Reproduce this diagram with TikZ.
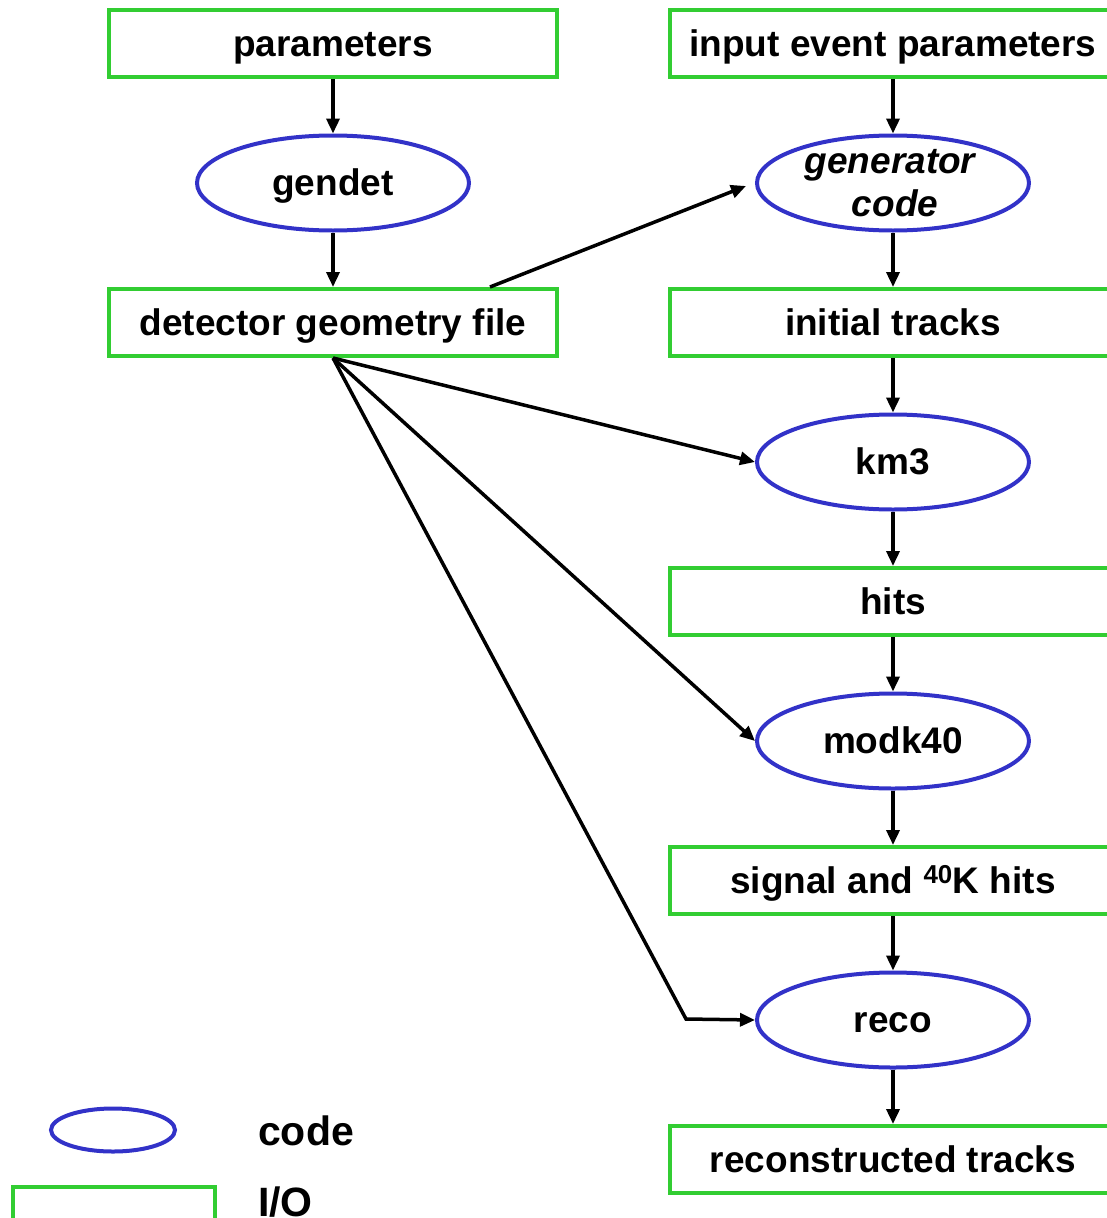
\documentclass[tikz,border=0pt]{standalone}
\usepackage{fontspec}
\setmainfont{Liberation Sans}
\usetikzlibrary{arrows.meta,shapes.geometric}
\definecolor{iogreen}{RGB}{50,205,50}
\definecolor{codeblue}{RGB}{50,50,200}
\begin{document}
\begin{tikzpicture}[x=1pt,y=-1pt,
  lbl/.style={font=\fontsize{37}{43}\selectfont\bfseries,text height=26pt,text depth=1pt},
  iobox/.style={lbl,draw=iogreen,line width=4pt,rectangle,minimum width=448pt,minimum height=67pt,inner sep=0pt},
  codeell/.style={lbl,draw=codeblue,line width=4pt,ellipse,minimum width=272pt,minimum height=95pt,inner sep=0pt},
  flow/.style={line width=3.5pt,-{Triangle[length=15pt,width=13pt]}},
  legtext/.style={anchor=west,inner sep=0pt,font=\fontsize{41}{45}\selectfont\bfseries}]
\useasboundingbox (0,0) rectangle (1106,1218);
% left column
\node[iobox] (par) at (333,43.5) {parameters};
\node[codeell] (gendet) at (333,183) {gendet};
\node[iobox] (det) at (333,322.5) {detector geometry file};
% right column
\node[iobox,minimum width=446pt] (iep) at (893,43.5) {input event parameters};
\node[codeell] (gen) at (893,183) {};
\node[anchor=base,inner sep=0pt,font=\fontsize{37}{43}\selectfont\bfseries\itshape] (gen1) at (890,173) {generator};
\node[anchor=base,inner sep=0pt,font=\fontsize{37}{43}\selectfont\bfseries\itshape] (gen2) at (895,216) {code};
\node[iobox,minimum width=446pt] (init) at (893,322.5) {initial tracks};
\node[codeell] (km3) at (893,462) {km3};
\node[iobox,minimum width=446pt] (hits) at (893,601.5) {hits};
\node[codeell] (modk) at (893,741) {modk40};
\node[iobox,minimum width=446pt] (sig) at (893,880.5) {signal and \textsuperscript{40}K hits};
\node[codeell] (reco) at (893,1020) {reco};
\node[iobox,minimum width=446pt] (rt) at (893,1159.5) {reconstructed tracks};
% legend
\node[draw=codeblue,line width=4pt,ellipse,minimum width=124pt,minimum height=43pt,inner sep=0pt] (legell) at (113,1130) {};
\node[draw=iogreen,line width=4pt,rectangle,minimum width=202pt,minimum height=60pt,inner sep=0pt] (legbox) at (114,1217) {};
\node[legtext] (legcode) at (258,1131) {code};
\node[legtext] (legio) at (258,1202) {I/O};
% arrows left
\draw[flow] (par.south) -- (gendet.north);
\draw[flow] (gendet.south) -- (det.north);
% arrows right
\draw[flow] (iep.south) -- (gen.north);
\draw[flow] (gen.south) -- (init.north);
\draw[flow] (init.south) -- (km3.north);
\draw[flow] (km3.south) -- (hits.north);
\draw[flow] (hits.south) -- (modk.north);
\draw[flow] (modk.south) -- (sig.north);
\draw[flow] (sig.south) -- (reco.north);
\draw[flow] (reco.south) -- (rt.north);
% arrows from detector geometry
\coordinate (bend) at (686,1019);
\draw[flow] ([xshift=157pt]det.north) -- ([xshift=-9pt,yshift=-3pt]gen.west);
\draw[flow] (det.south) -- (km3.west);
\draw[flow] (det.south) -- (modk.west);
\draw[flow,line join=miter] (det.south) -- (bend) -- (reco.west);
\end{tikzpicture}
\end{document}
